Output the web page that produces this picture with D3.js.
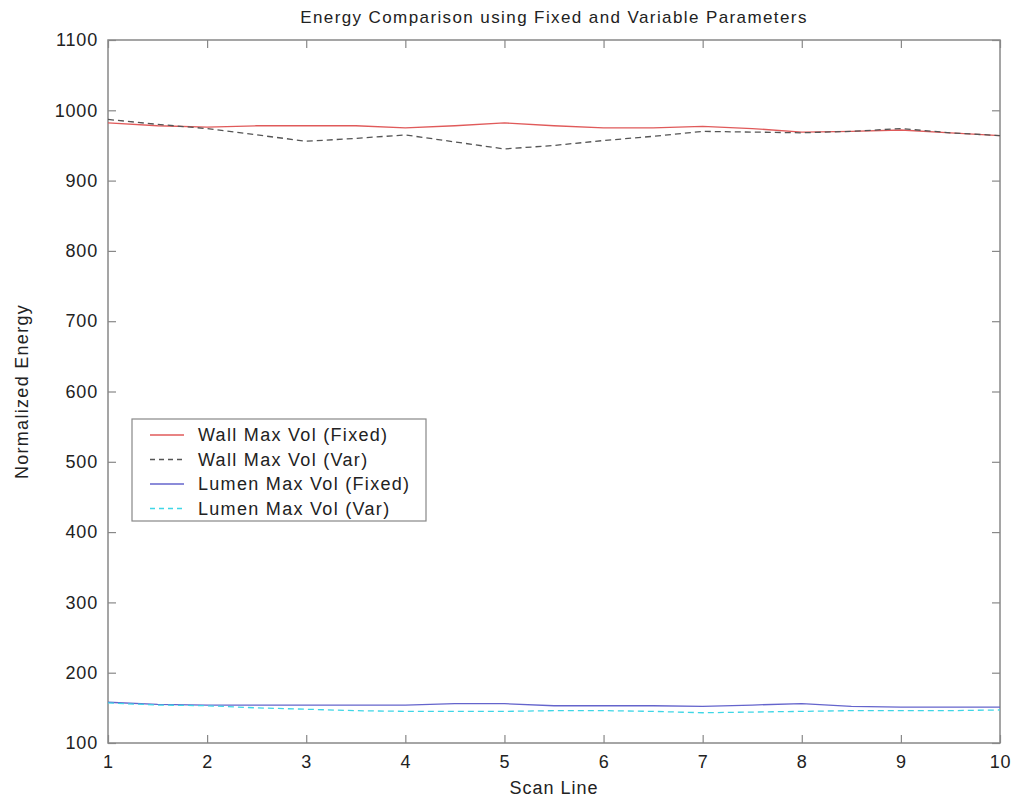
<!DOCTYPE html>
<html>
<head>
<meta charset="utf-8">
<script src="https://cdn.jsdelivr.net/npm/d3@7"></script>
<style>
  html, body { margin: 0; padding: 0; background: #fff; }
  svg { display: block; font-family: "Liberation Sans", Arial, sans-serif; }
</style>
</head>
<body>
<svg id="chart" width="1015" height="799"></svg>
<script>
// Scan line positions (half-line steps)
const scanLine = [1, 1.5, 2, 2.5, 3, 3.5, 4, 4.5, 5, 5.5, 6, 6.5, 7, 7.5, 8, 8.5, 9, 9.5, 10];

// Normalized energy per series
const wallFixed  = [982, 978, 976, 978, 978, 978, 975, 978, 982, 978, 975, 975, 977, 974, 969, 970, 972, 968, 964];
const wallVar    = [987, 980, 974, 965, 956, 960, 965, 955, 945, 950, 957, 963, 970, 969, 968, 970, 974, 968, 964];
const lumenFixed = [158, 155, 154, 154, 154, 154, 154, 156, 156, 153, 153, 153, 152, 154, 156, 152, 151, 151, 151];
const lumenVar   = [157, 154, 153, 150, 148, 146, 145, 145, 145, 146, 146, 145, 143, 144, 145, 146, 146, 146, 147];

const seriesNames = ["Wall Max Vol (Fixed)", "Wall Max Vol (Var)", "Lumen Max Vol (Fixed)", "Lumen Max Vol (Var)"];
const xTicks = [1, 2, 3, 4, 5, 6, 7, 8, 9, 10];
const yTicks = [100, 200, 300, 400, 500, 600, 700, 800, 900, 1000, 1100];

const titleText = "Energy Comparison using Fixed and Variable Parameters";
const xLabelText = "Scan Line";
const yLabelText = "Normalized Energy";

const styles = [
  { color: "#e05a5a", dash: null },
  { color: "#555555", dash: "6,4" },
  { color: "#6464cc", dash: null },
  { color: "#3fd6e6", dash: "6,4" }
];

const svg = d3.select("#chart");
const m = { left: 108, top: 40, right: 1000, bottom: 743 };

const x = d3.scaleLinear().domain([1, 10]).range([m.left, m.right]);
const y = d3.scaleLinear().domain([100, 1100]).range([m.bottom, m.top]);

const axisColor = "#888";
const textColor = "#222";
const tickLen = 8;

// Plot box
svg.append("rect")
  .attr("x", m.left).attr("y", m.top)
  .attr("width", m.right - m.left).attr("height", m.bottom - m.top)
  .attr("fill", "none").attr("stroke", axisColor).attr("stroke-width", 1.5);

// Axes with inward ticks
const styleAxis = g => {
  g.select(".domain").remove();
  g.selectAll(".tick line").attr("stroke", axisColor).attr("stroke-width", 1.2);
  g.selectAll(".tick text").attr("fill", textColor).attr("font-size", 18)
    .attr("letter-spacing", 0.8)
    .attr("font-family", "Liberation Sans, Arial, sans-serif");
};

svg.append("g").attr("transform", `translate(0,${m.bottom})`)
  .call(d3.axisBottom(x).tickValues(xTicks).tickFormat(d3.format("d")).tickSizeInner(-tickLen).tickSizeOuter(0).tickPadding(12))
  .call(styleAxis);
svg.append("g").attr("transform", `translate(0,${m.top})`)
  .call(d3.axisTop(x).tickValues(xTicks).tickFormat("").tickSizeInner(-tickLen).tickSizeOuter(0))
  .call(styleAxis);
svg.append("g").attr("transform", `translate(${m.left},0)`)
  .call(d3.axisLeft(y).tickValues(yTicks).tickFormat(d3.format("d")).tickSizeInner(-tickLen).tickSizeOuter(0).tickPadding(10))
  .call(styleAxis);
svg.append("g").attr("transform", `translate(${m.right},0)`)
  .call(d3.axisRight(y).tickValues(yTicks).tickFormat("").tickSizeInner(-tickLen).tickSizeOuter(0))
  .call(styleAxis);

// Series lines
const allSeries = [wallFixed, wallVar, lumenFixed, lumenVar];
const line = d3.line().x((d, i) => x(scanLine[i])).y(d => y(d));

allSeries.forEach((vals, k) => {
  svg.append("path")
    .datum(vals)
    .attr("d", line)
    .attr("fill", "none")
    .attr("stroke", styles[k].color)
    .attr("stroke-width", 1.3)
    .attr("stroke-dasharray", styles[k].dash);
});

// Title and axis labels
svg.append("text").attr("x", (m.left + m.right) / 2).attr("y", 23)
  .attr("text-anchor", "middle").attr("font-size", 17).attr("letter-spacing", 1.4)
  .attr("fill", textColor).text(titleText);
svg.append("text").attr("x", (m.left + m.right) / 2).attr("y", 794)
  .attr("text-anchor", "middle").attr("font-size", 18).attr("letter-spacing", 1)
  .attr("fill", textColor).text(xLabelText);
svg.append("text")
  .attr("transform", `translate(28,${(m.top + m.bottom) / 2}) rotate(-90)`)
  .attr("text-anchor", "middle").attr("font-size", 18).attr("letter-spacing", 1.3)
  .attr("fill", textColor).text(yLabelText);

// Legend
const lg = svg.append("g").attr("transform", "translate(132,419)");
lg.append("rect").attr("width", 294).attr("height", 102)
  .attr("fill", "#fff").attr("stroke", axisColor).attr("stroke-width", 1.2);
seriesNames.forEach((name, k) => {
  const yy = 16 + k * 24.5;
  lg.append("line").attr("x1", 18).attr("x2", 52).attr("y1", yy).attr("y2", yy)
    .attr("stroke", styles[k].color).attr("stroke-width", 1.3)
    .attr("stroke-dasharray", styles[k].dash ? "5,4" : null);
  lg.append("text").attr("x", 66).attr("y", yy + 6)
    .attr("font-size", 18).attr("letter-spacing", 1.3)
    .attr("fill", textColor).text(name);
});
</script>
</body>
</html>
